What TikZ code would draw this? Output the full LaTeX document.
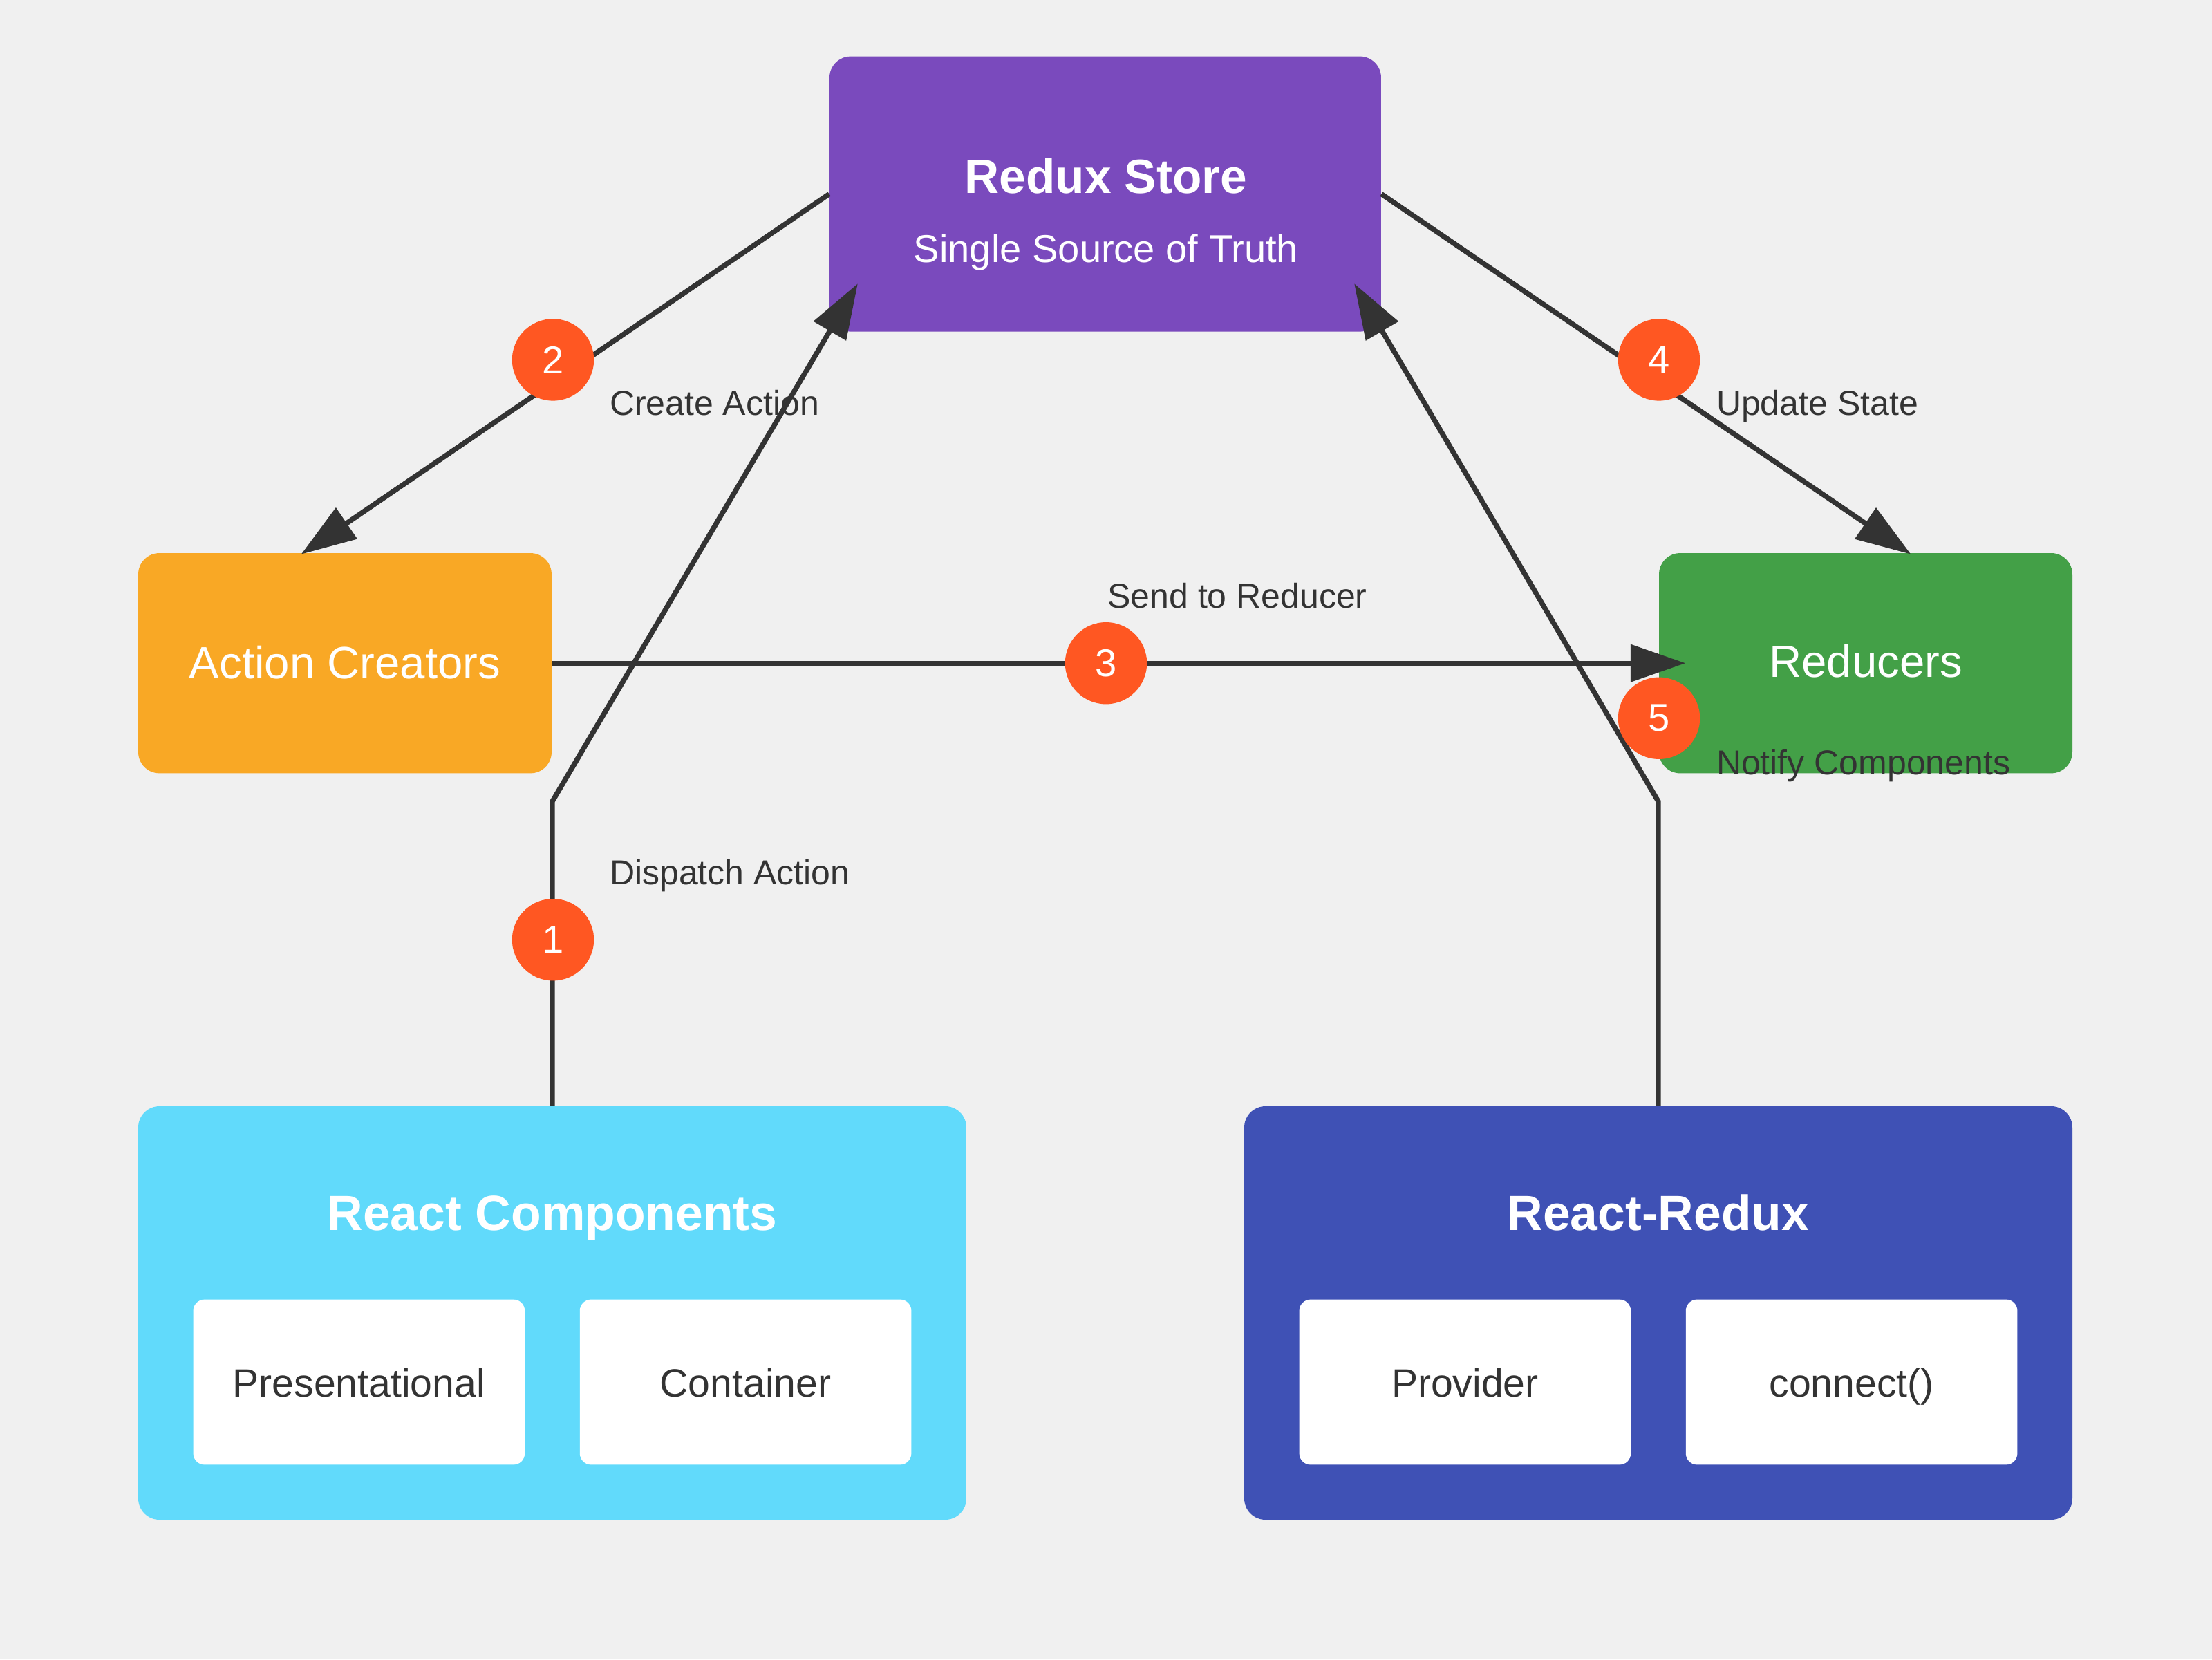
\documentclass[tikz,border=0pt]{standalone}
\usepackage{fontspec}
\setmainfont{Liberation Sans}
\usetikzlibrary{arrows.meta,calc}
\definecolor{bg}{HTML}{F0F0F0}
\definecolor{storec}{HTML}{7A4ABD}
\definecolor{actc}{HTML}{F9A825}
\definecolor{redc}{HTML}{43A047}
\definecolor{reactc}{HTML}{61DAFB}
\definecolor{rrc}{HTML}{3F51B5}
\definecolor{ink}{HTML}{333333}
\definecolor{badge}{HTML}{FF5722}
\begin{document}
\begin{tikzpicture}[x=1pt,y=-1pt,
  box/.style={rounded corners=15pt, inner sep=0pt, draw=none},
  innerbox/.style={fill=white, rounded corners=8pt, minimum width=235pt, minimum height=117pt, inner sep=0pt},
  flow/.style={draw=ink, line width=3.6pt, -{Triangle[length=39pt,width=26pt]}},
  num/.style={circle, fill=badge, minimum size=58pt, inner sep=0pt, text=white, font=\fontsize{27.5}{32}\selectfont},
  lbl/.style={text=ink, anchor=base west, inner sep=0pt, font=\fontsize{24.5}{28}\selectfont},
  wtitle/.style={text=white, anchor=base, inner sep=0pt, font=\fontsize{35}{40}\selectfont\bfseries},
  wtext/.style={text=white, anchor=base, inner sep=0pt, font=\fontsize{32}{36}\selectfont},
  itext/.style={text=ink, anchor=base, inner sep=0pt, font=\fontsize{28}{32}\selectfont}
]
\fill[bg] (0,0) rectangle (1568,1176);
\useasboundingbox (0,0) rectangle (1568,1176);

% main boxes
\node[box, fill=storec, minimum width=391pt, minimum height=195pt] (store) at (783.5,137.5) {};
\node[box, fill=actc, minimum width=293pt, minimum height=156pt] (action) at (244.5,470) {};
\node[box, fill=redc, minimum width=293pt, minimum height=156pt] (reducers) at (1322.5,470) {};
\node[box, fill=reactc, minimum width=587pt, minimum height=293pt] (react) at (391.5,930.5) {};
\node[box, fill=rrc, minimum width=587pt, minimum height=293pt] (rr) at (1175.5,930.5) {};

% inner boxes
\node[innerbox] (pres) at (254.5,979.5) {};
\node[innerbox] (cont) at (528.5,979.5) {};
\node[innerbox] (prov) at (1038.5,979.5) {};
\node[innerbox] (conn) at (1312.5,979.5) {};

% box texts
\node[wtitle, font=\fontsize{34}{40}\selectfont\bfseries] (tstore) at (784,137) {Redux Store};
\node[wtext, font=\fontsize{27.5}{32}\selectfont] (tsub) at (784,186) {Single Source of Truth};
\node[wtext] (tact) at (244.5,481) {Action Creators};
\node[wtext] (tred) at (1322.5,480) {Reducers};
\node[wtitle] (treact) at (391.5,872) {React Components};
\node[wtitle] (trr) at (1175.5,872) {React-Redux};
\node[itext] (tpres) at (254.5,990) {Presentational};
\node[itext] (tcont) at (528.5,990) {Container};
\node[itext] (tprov) at (1038.5,990) {Provider};
\node[itext] (tconn) at (1312.5,990) {connect()};

% coordinates
\coordinate (bend1) at (391.5,568);
\coordinate (tip1) at (608,201);
\coordinate (bend5) at (1175.5,568);
\coordinate (tip5) at (960,201);
\coordinate (tip2) at ($(action.north)+(-31,1)$);
\coordinate (tip4) at ($(reducers.north)+(32,1)$);
\coordinate (tip3) at ($(reducers.west)+(19,0)$);

% connectors
\draw[flow] (react.north) -- (bend1) -- (tip1);
\draw[flow] (store.west) -- (tip2);
\draw[flow] (action.east) -- (tip3);
\draw[flow] (store.east) -- (tip4);
\draw[flow] (rr.north) -- (bend5) -- (tip5);

% badges
\node[num] (n1) at (392,666) {1};
\node[num] (n2) at (392,255) {2};
\node[num] (n3) at (784,470) {3};
\node[num] (n4) at (1176,255) {4};
\node[num] (n5) at (1176,509) {5};

% labels
\node[lbl] (l1) at (432,627) {Dispatch Action};
\node[lbl] (l2) at (432,294) {Create Action};
\node[lbl] (l3) at (785,431) {Send to Reducer};
\node[lbl] (l4) at (1216.5,294) {Update State};
\node[lbl] (l5) at (1216.5,549) {Notify Components};
\end{tikzpicture}
\end{document}
